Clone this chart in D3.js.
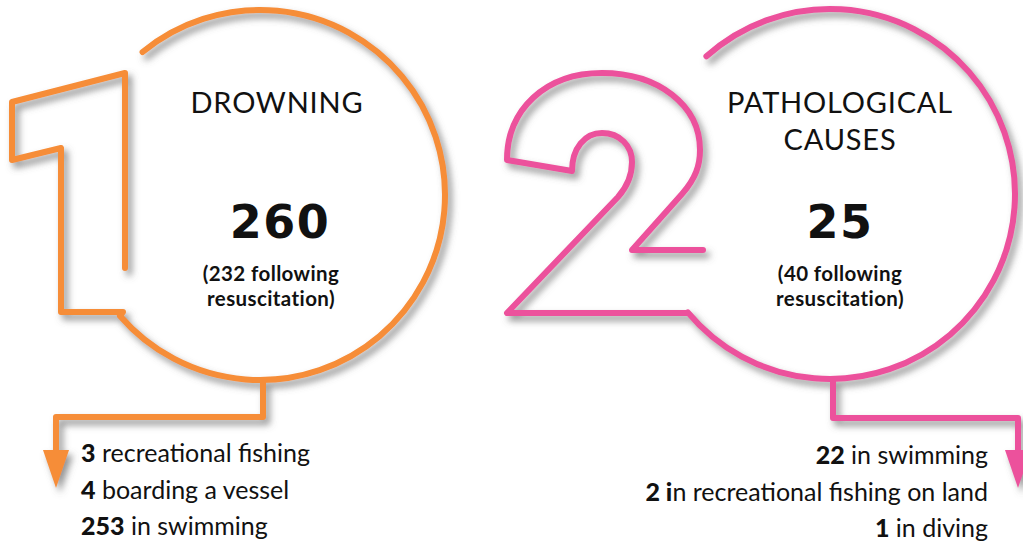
<!DOCTYPE html>
<html>
<head>
<meta charset="utf-8">
<script src="https://cdn.jsdelivr.net/npm/d3@7"></script>
<style>
  html, body { margin: 0; padding: 0; background: #fff; }
  svg { display: block; font-family: Lato, "Open Sans", sans-serif; }
</style>
</head>
<body>
<div id="root"></div>
<script>
// data
const categories = ["DROWNING", "PATHOLOGICAL CAUSES"]
const titleLines = [["DROWNING"], ["PATHOLOGICAL", "CAUSES"]]
const totals = [260, 25]
const resuscitated = [232, 40]
const drowningCounts = ["3", "4", "253"]
const drowningLabels = ["recreational fishing", "boarding a vessel", "in swimming"]
// the bold "i" is in the original
const pathologicalCounts = ["22", "2 i", "1"]
const pathologicalLabels = ["in swimming", "n recreational fishing on land", "in diving"]
const colors = ["#F68D37", "#EC519C"]

const W = 1023, H = 547

const svg = d3.select("#root").append("svg")
  .attr("width", W)
  .attr("height", H)

const defs = svg.append("defs")
const shadow = defs.append("filter")
  .attr("id", "shadow")
  .attr("x", "-20%").attr("y", "-20%")
  .attr("width", "140%").attr("height", "140%")
shadow.append("feDropShadow")
  .attr("dx", 4).attr("dy", 5)
  .attr("stdDeviation", 3.5)
  .attr("flood-color", "#666")
  .attr("flood-opacity", 0.7)

// 1. circles with the big numerals (layout only)
const panels = [
  { cx: 260, cy: 195, r: 185, textX: 276 },
  { cx: 830, cy: 194, r: 185, textX: 840 }
]

const angle = (p, x, y) => Math.atan2(y - p.cy, x - p.cx)

// "1" outline joined to the circle
function pathOne(p) {
  const path = d3.path()
  path.moveTo(125, 268)
  path.lineTo(125, 73)
  path.lineTo(12, 102)
  path.lineTo(12, 160)
  path.lineTo(61, 148)
  path.lineTo(61, 312)
  path.lineTo(123, 312)
  path.arc(p.cx, p.cy, p.r, angle(p, 123, 313), angle(p, 145, 55), true)
  return path.toString()
}

// "2" outline joined to the circle
function pathTwo(p) {
  const path = d3.path()
  path.moveTo(703, 250)
  path.lineTo(632, 250)
  path.lineTo(682, 194)
  path.bezierCurveTo(696, 178, 700, 165, 700, 150)
  path.bezierCurveTo(700, 105, 658, 73, 602, 73)
  path.bezierCurveTo(545, 73, 507, 110, 507, 160)
  path.lineTo(572, 171)
  path.bezierCurveTo(572, 148, 585, 133, 602, 133)
  path.bezierCurveTo(620, 133, 632, 146, 632, 162)
  path.bezierCurveTo(632, 178, 626, 188, 618, 197)
  path.lineTo(507, 313)
  path.lineTo(687, 313)
  path.arc(p.cx, p.cy, p.r, angle(p, 687, 313), angle(p, 707, 57), true)
  return path.toString()
}

const stems = [
  { x0: 263, y0: 379, yMid: 417, x1: 56 },
  { x0: 833, y0: 378, yMid: 418, x1: 1018 }
]

const art = svg.append("g").attr("filter", "url(#shadow)")

art.selectAll("path.numeral")
  .data(panels)
  .join("path")
  .attr("class", "numeral")
  .attr("d", (d, i) => i === 0 ? pathOne(d) : pathTwo(d))
  .attr("fill", "none")
  .attr("stroke", (d, i) => colors[i])
  .attr("stroke-width", 6)
  .attr("stroke-linejoin", "round")
  .attr("stroke-linecap", "round")

art.selectAll("path.stem")
  .data(stems)
  .join("path")
  .attr("class", "stem")
  .attr("d", d => `M${d.x0},${d.y0}V${d.yMid}H${d.x1}V455`)
  .attr("fill", "none")
  .attr("stroke", (d, i) => colors[i])
  .attr("stroke-width", 6)
  .attr("stroke-linejoin", "round")

art.selectAll("path.arrow")
  .data(stems)
  .join("path")
  .attr("class", "arrow")
  .attr("d", d => `M${d.x1 - 13},450L${d.x1 + 13},450L${d.x1},488Z`)
  .attr("fill", (d, i) => colors[i])

// 2. texts inside the circles
const panelText = svg.selectAll("g.panel")
  .data(categories)
  .join("g")
  .attr("class", "panel")
  .attr("text-anchor", "middle")
  .attr("fill", "#111")

panelText.each(function (cat, i) {
  const g = d3.select(this)
  const x = panels[i].textX
  g.selectAll("text.title")
    .data(titleLines[i])
    .join("text")
    .attr("class", "title")
    .attr("x", x + (i === 0 ? 1 : 0))
    .attr("y", (d, j) => 113 + j * 37)
    .attr("font-size", 29)
    .attr("letter-spacing", 0.8)
    .text(d => d)

  g.append("text")
    .attr("x", x + (i === 0 ? 4 : 0))
    .attr("y", 238)
    .attr("font-family", "'DejaVu Sans', Lato, sans-serif")
    .attr("font-size", 46)
    .attr("font-weight", 700)
    .attr("letter-spacing", 1.5)
    .text(totals[i])

  g.selectAll("text.sub")
    .data([`(${resuscitated[i]} following`, "resuscitation)"])
    .join("text")
    .attr("class", "sub")
    .attr("x", x - (i === 0 ? 5 : 0))
    .attr("y", (d, j) => 281 + j * 25)
    .attr("font-size", 20.5)
    .attr("font-weight", 700)
    .attr("letter-spacing", 0.4)
    .text(d => d)
})

// 3. breakdown lists
const listY = d3.scalePoint().domain([0, 1, 2]).range([462, 535])

const leftList = svg.append("g")
  .selectAll("text")
  .data(drowningCounts)
  .join("text")
  .attr("x", 81)
  .attr("y", (d, i) => listY(i))
  .attr("font-size", 25)
  .attr("fill", "#111")
leftList.append("tspan").attr("font-weight", 900).text(d => d)
leftList.append("tspan").text((d, i) => " " + drowningLabels[i])

const rightList = svg.append("g")
  .selectAll("text")
  .data(pathologicalCounts)
  .join("text")
  .attr("x", 988)
  .attr("y", (d, i) => listY(i) + 2)
  .attr("text-anchor", "end")
  .attr("font-size", 25)
  .attr("fill", "#111")
rightList.append("tspan").attr("font-weight", 900).text(d => d)
rightList.append("tspan").text((d, i) => (d.endsWith("i") ? "" : " ") + pathologicalLabels[i])
</script>
</body>
</html>
